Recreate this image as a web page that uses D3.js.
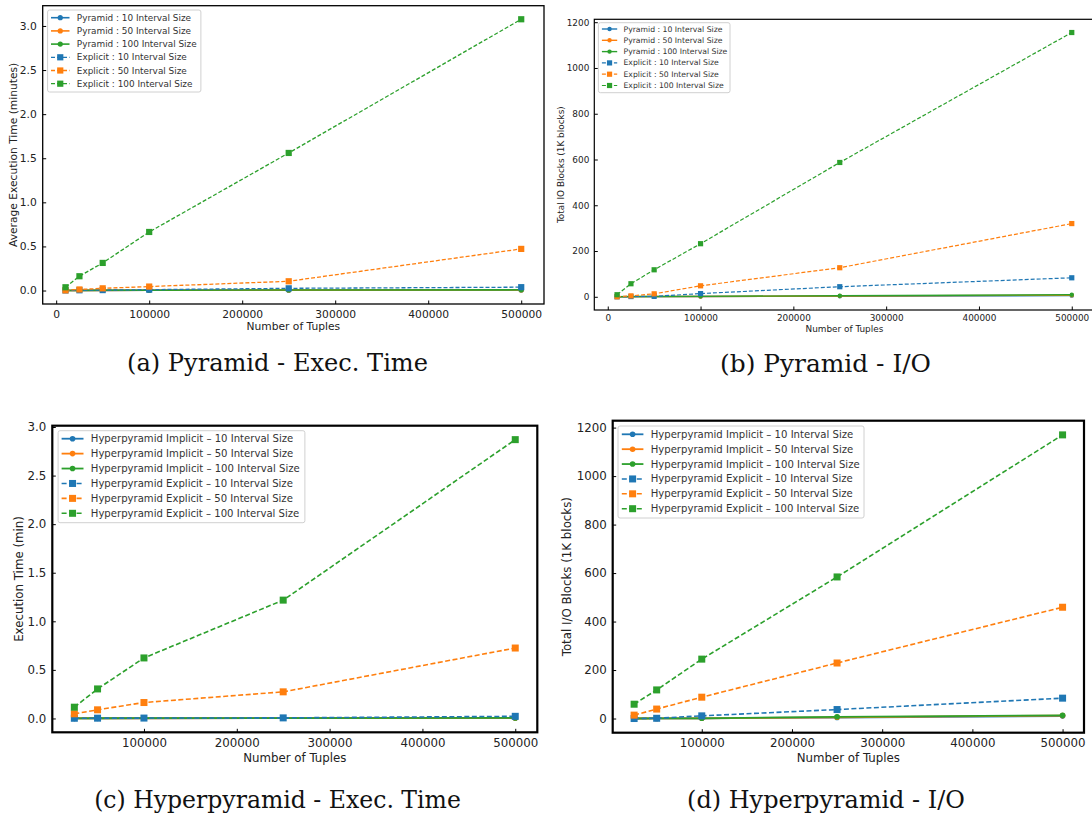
<!DOCTYPE html>
<html><head><meta charset="utf-8">
<script src="https://cdn.jsdelivr.net/npm/d3@7"></script>
<style>body{margin:0;background:#fff}svg{display:block}</style>
</head><body>
<svg id="c" width="1092" height="814"></svg>
<script>
// ---------- data ----------
const xPyr = [10000, 25000, 50000, 100000, 250000, 500000];
const xHyp = [25000, 50000, 100000, 250000, 500000];

const aPyr10  = [0.001, 0.001, 0.002, 0.003, 0.004, 0.006];
const aPyr50  = [0.001, 0.002, 0.002, 0.003, 0.005, 0.007];
const aPyr100 = [0.001, 0.002, 0.003, 0.004, 0.006, 0.008];
const aExp10  = [0.001, 0.003, 0.005, 0.010, 0.025, 0.038];
const aExp50  = [0.002, 0.012, 0.025, 0.045, 0.105, 0.472];
const aExp100 = [0.037, 0.162, 0.313, 0.664, 1.560, 3.076];

const bPyr10  = [0, 0, 0.5, 1, 2.5, 5];
const bPyr50  = [0, 0.5, 1, 1.5, 3.5, 7];
const bPyr100 = [0, 1, 1.5, 2, 4.5, 9];
const bExp10  = [0, 1, 2, 14, 44, 83];
const bExp50  = [0, 4, 13, 48, 127, 320];
const bExp100 = [9, 57, 118, 232, 587, 1155];

const cImp10  = [0.001, 0.001, 0.002, 0.003, 0.005];
const cImp50  = [0.001, 0.002, 0.002, 0.004, 0.006];
const cImp100 = [0.001, 0.002, 0.003, 0.004, 0.006];
const cExp10  = [0.002, 0.003, 0.004, 0.006, 0.022];
const cExp50  = [0.048, 0.089, 0.164, 0.274, 0.725];
const cExp100 = [0.116, 0.304, 0.623, 1.218, 2.870];

const dImp10  = [0, 0.5, 1, 4, 10];
const dImp50  = [0, 0.5, 1, 5, 12];
const dImp100 = [0, 1, 1, 7, 13];
const dExp10  = [0, 1, 11, 37, 84];
const dExp50  = [14, 39, 88, 229, 459];
const dExp100 = [59, 118, 245, 584, 1170];

const xTickVals = [0, 100000, 200000, 300000, 400000, 500000];
const yTicksTime = [0, 0.5, 1.0, 1.5, 2.0, 2.5, 3.0];
const yTicksIO = [0, 200, 400, 600, 800, 1000, 1200];

const pyrNames = ["Pyramid : 10 Interval Size", "Pyramid : 50 Interval Size", "Pyramid : 100 Interval Size",
                  "Explicit : 10 Interval Size", "Explicit : 50 Interval Size", "Explicit : 100 Interval Size"];
const hypNames = ["Hyperpyramid Implicit \u2013 10 Interval Size", "Hyperpyramid Implicit \u2013 50 Interval Size",
                  "Hyperpyramid Implicit \u2013 100 Interval Size", "Hyperpyramid Explicit \u2013 10 Interval Size",
                  "Hyperpyramid Explicit \u2013 50 Interval Size", "Hyperpyramid Explicit \u2013 100 Interval Size"];
const captions = ["(a) Pyramid - Exec. Time", "(b) Pyramid - I/O", "(c) Hyperpyramid - Exec. Time", "(d) Hyperpyramid - I/O"];
const colors = ["#1f77b4", "#ff7f0e", "#2ca02c"];

const svg = d3.select("#c");
const FONT = "DejaVu Sans, sans-serif";

function panel(cfg) {
  const g = svg.append("g");
  const allY = cfg.series.flat();
  const xmin = d3.min(cfg.xs), xmax = d3.max(cfg.xs);
  const ymin = d3.min(allY), ymax = d3.max(allY);
  const xp = (xmax - xmin) * 0.05, yp = (ymax - ymin) * 0.05;
  const x = d3.scaleLinear().domain([xmin - xp, xmax + xp]).range([cfg.l, cfg.r]);
  const y = d3.scaleLinear().domain([ymin - yp, ymax + yp]).range([cfg.b, cfg.t]);

  cfg.series.forEach((vals, i) => {
    const explicit = i >= 3;
    const col = colors[i % 3];
    const pts = cfg.xs.map((xv, k) => [xv, vals[k]]);
    g.append("path").datum(pts)
      .attr("d", d3.line().x(d => x(d[0])).y(d => y(d[1])))
      .attr("fill", "none").attr("stroke", col)
      .attr("stroke-width", explicit ? cfg.lwD : cfg.lw)
      .attr("stroke-dasharray", explicit ? cfg.dash : null);
    if (explicit) {
      g.selectAll(null).data(pts).enter().append("rect")
        .attr("x", d => x(d[0]) - cfg.sq / 2).attr("y", d => y(d[1]) - cfg.sq / 2)
        .attr("width", cfg.sq).attr("height", cfg.sq).attr("fill", col);
    } else {
      g.selectAll(null).data(pts).enter().append("circle")
        .attr("cx", d => x(d[0])).attr("cy", d => y(d[1])).attr("r", cfg.cr).attr("fill", col);
    }
  });

  g.append("rect").attr("x", cfg.l).attr("y", cfg.t).attr("width", cfg.r - cfg.l).attr("height", cfg.b - cfg.t)
    .attr("fill", "none").attr("stroke", "#000").attr("stroke-width", cfg.fw);

  const xt = xTickVals.filter(v => v >= x.domain()[0] && v <= x.domain()[1]);
  const xa = d3.axisBottom(x).tickValues(xt).tickFormat(d3.format("d")).tickSizeInner(-3.5).tickSizeOuter(0).tickPadding(cfg.xpad);
  const gx = g.append("g").attr("transform", `translate(0,${cfg.b})`).call(xa);
  gx.select(".domain").remove();
  gx.selectAll("text").attr("font-family", FONT).attr("font-size", cfg.fs).attr("fill", "#222");
  gx.selectAll("line").attr("stroke", "#000");

  const ya = d3.axisLeft(y).tickValues(cfg.yTicks).tickFormat(cfg.yFmt).tickSizeInner(-3.5).tickSizeOuter(0).tickPadding(cfg.ypad);
  const gy = g.append("g").attr("transform", `translate(${cfg.l},0)`).call(ya);
  gy.select(".domain").remove();
  gy.selectAll("text").attr("font-family", FONT).attr("font-size", cfg.fs).attr("fill", "#222");
  gy.selectAll("line").attr("stroke", "#000");

  g.append("text").attr("x", (cfg.l + cfg.r) / 2).attr("y", cfg.xlY).attr("text-anchor", "middle")
    .attr("dominant-baseline", "central").attr("font-family", FONT).attr("font-size", cfg.fs).attr("fill", "#222")
    .text("Number of Tuples");
  g.append("text").attr("transform", `translate(${cfg.ylX},${(cfg.t + cfg.b) / 2}) rotate(-90)`)
    .attr("text-anchor", "middle").attr("dominant-baseline", "central")
    .attr("font-family", FONT).attr("font-size", cfg.fs).attr("fill", "#222").text(cfg.ylabel);

  const L = cfg.leg;
  g.append("rect").attr("x", L.x0).attr("y", L.y0).attr("width", L.x1 - L.x0).attr("height", L.y1 - L.y0)
    .attr("rx", 2).attr("fill", "#fff").attr("fill-opacity", 0.85).attr("stroke", "#d0d0d0").attr("stroke-width", 1);
  cfg.names.forEach((nm, i) => {
    const yy = L.row0 + i * L.dy;
    const explicit = i >= 3, col = colors[i % 3];
    g.append("line").attr("x1", L.h0).attr("x2", L.h1).attr("y1", yy).attr("y2", yy)
      .attr("stroke", col).attr("stroke-width", explicit ? cfg.lwD : cfg.lw)
      .attr("stroke-dasharray", explicit ? cfg.dash : null);
    const mx = (L.h0 + L.h1) / 2;
    if (explicit) g.append("rect").attr("x", mx - cfg.sq / 2).attr("y", yy - cfg.sq / 2)
      .attr("width", cfg.sq).attr("height", cfg.sq).attr("fill", col);
    else g.append("circle").attr("cx", mx).attr("cy", yy).attr("r", cfg.cr).attr("fill", col);
    g.append("text").attr("x", L.tx).attr("y", yy).attr("dominant-baseline", "central")
      .attr("font-family", FONT).attr("font-size", L.fs).attr("fill", "#333").text(nm);
  });

  // caption, sized to the reference's width
  const cap = g.append("text").attr("x", cfg.cap.x).attr("y", cfg.cap.y).attr("text-anchor", "middle")
    .attr("dominant-baseline", "central").attr("font-family", "DejaVu Serif, serif")
    .attr("font-size", 20).attr("fill", "#111").text(cfg.caption);
  const w = cap.node().getComputedTextLength();
  if (w > 0) cap.attr("font-size", 20 * cfg.cap.w / w);
}

const f1 = d3.format(".1f"), f0 = d3.format("d");

panel({ xs: xPyr, series: [aPyr10, aPyr50, aPyr100, aExp10, aExp50, aExp100],
  l: 42.7, t: 5.7, r: 544, b: 304, fw: 1.3, fs: 10.7, xpad: 6, ypad: 6,
  yTicks: yTicksTime, yFmt: f1, ylabel: "Average Execution Time (minutes)", ylX: 13.5, xlY: 326.5,
  lw: 1.6, lwD: 1.3, dash: "4,2", sq: 6.2, cr: 2.6, names: pyrNames, caption: captions[0],
  leg: { x0: 47.6, x1: 200.9, y0: 10, y1: 92, row0: 17.7, dy: 13.2, h0: 51, h1: 69.5, tx: 76.8, fs: 8.9 },
  cap: { x: 277.5, y: 363, w: 301 } });

panel({ xs: xPyr, series: [bPyr10, bPyr50, bPyr100, bExp10, bExp50, bExp100],
  l: 594.3, t: 19.3, r: 1094.5, b: 310, fw: 1.2, fs: 8.9, xpad: 5, ypad: 5,
  yTicks: yTicksIO, yFmt: f0, ylabel: "Total IO Blocks (1K blocks)", ylX: 560.5, xlY: 328.5,
  lw: 1.4, lwD: 1.2, dash: "4,2", sq: 5.2, cr: 2.2, names: pyrNames, caption: captions[1],
  leg: { x0: 598.4, x1: 730, y0: 22.7, y1: 92.7, row0: 29, dy: 11.3, h0: 601.9, h1: 617.2, tx: 623.5, fs: 7.7 },
  cap: { x: 825.5, y: 363, w: 211 } });

panel({ xs: xHyp, series: [cImp10, cImp50, cImp100, cExp10, cExp50, cExp100],
  l: 52.3, t: 425.7, r: 537.3, b: 732.3, fw: 2.2, fs: 11.8, xpad: 6, ypad: 6,
  yTicks: yTicksTime, yFmt: f1, ylabel: "Execution Time (min)", ylX: 19, xlY: 757.7,
  lw: 1.8, lwD: 1.6, dash: "5,2.5", sq: 7, cr: 2.8, names: hypNames, caption: captions[2],
  leg: { x0: 58.1, x1: 304.9, y0: 430.7, y1: 522.7, row0: 438.7, dy: 14.92, h0: 61.6, h1: 83.5, tx: 90.8, fs: 10.1 },
  cap: { x: 277.5, y: 800, w: 367 } });

panel({ xs: xHyp, series: [dImp10, dImp50, dImp100, dExp10, dExp50, dExp100],
  l: 612.7, t: 420.7, r: 1084, b: 732.7, fw: 2.2, fs: 11.8, xpad: 6, ypad: 6,
  yTicks: yTicksIO, yFmt: f0, ylabel: "Total I/O Blocks (1K blocks)", ylX: 567, xlY: 757.7,
  lw: 1.8, lwD: 1.6, dash: "5,2.5", sq: 7, cr: 2.8, names: hypNames, caption: captions[3],
  leg: { x0: 618, x1: 864, y0: 426, y1: 518, row0: 434.3, dy: 14.88, h0: 621.8, h1: 643.4, tx: 650.7, fs: 10.1 },
  cap: { x: 826, y: 800, w: 278 } });
</script>
</body></html>
